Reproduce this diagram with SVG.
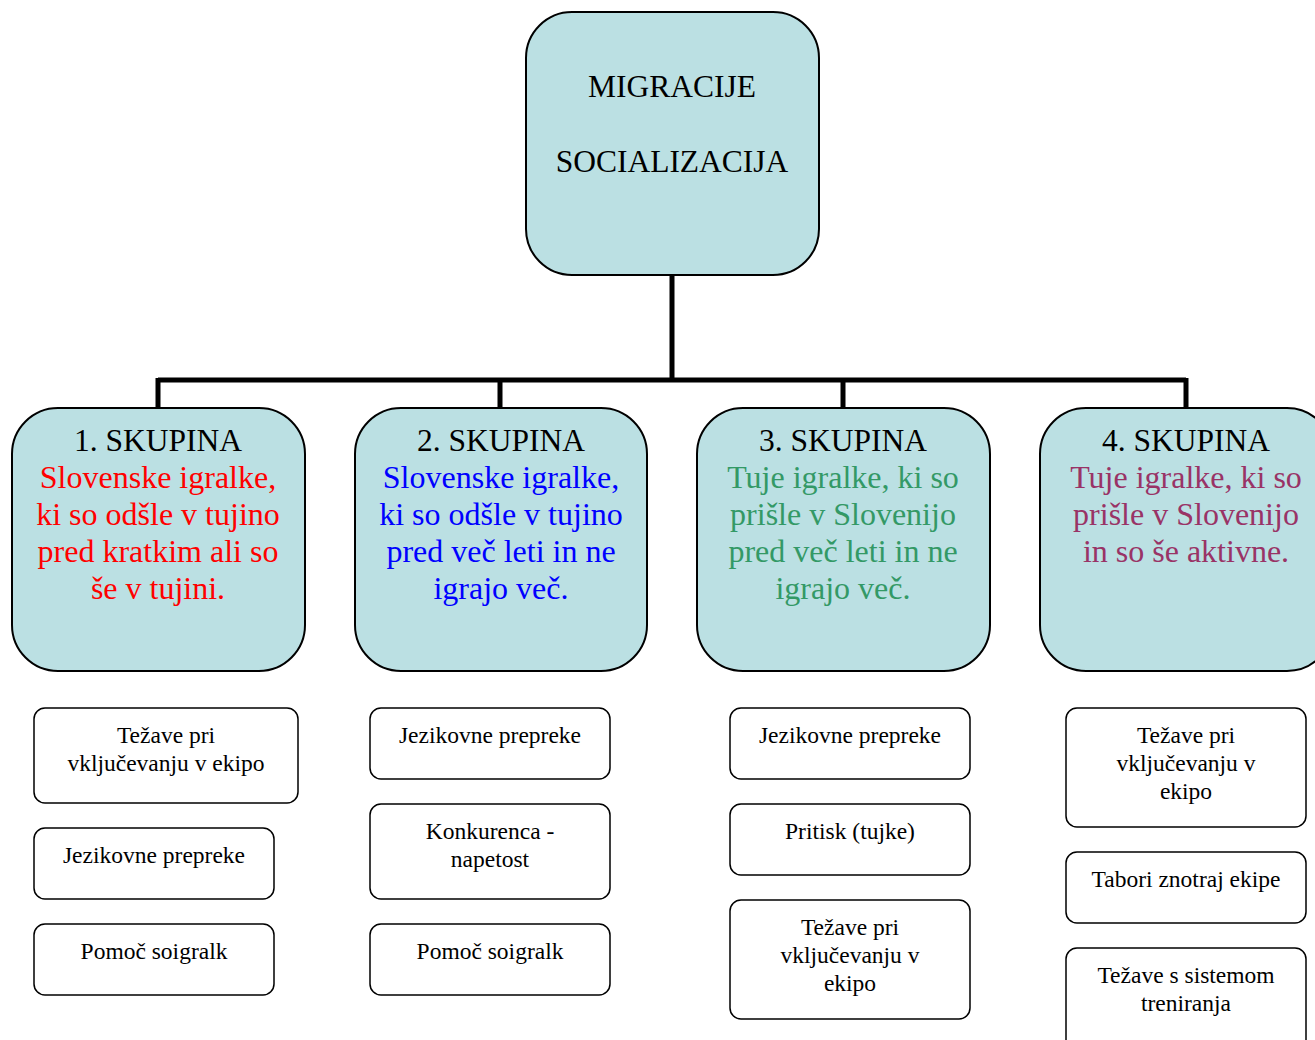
<svg xmlns="http://www.w3.org/2000/svg" width="1315" height="1040" viewBox="0 0 1315 1040">
  <style>
    .big { fill: #BBE0E3; stroke: #000; stroke-width: 2; }
    .small { fill: #fff; stroke: #000; stroke-width: 1.5; }
    .wire { stroke: #000; stroke-width: 5; fill: none; }
    text { font-family: "Liberation Serif", "Times New Roman", serif; text-anchor: middle; }
    .t28 { font-size: 31.5px; fill: #000; }
    .t29 { font-size: 32px; }
    .t20 { font-size: 23.5px; fill: #000; }
    .red { fill: #FF0000; }
    .blue { fill: #0000FF; }
    .green { fill: #339966; }
    .plum { fill: #993366; }
  </style>
  <rect width="1315" height="1040" fill="#fff"/>

  <g id="connectors">
    <path class="wire" d="M672 275 V380 M158 380 H1186 M158 378 V408 M500 378 V408 M843 378 V408 M1186 378 V408"/>
  </g>

  <g id="root">
    <rect class="big" x="526" y="12" width="293" height="263" rx="46"/>
    <text class="t28" x="672" y="97">MIGRACIJE</text>
    <text class="t28" x="672" y="172">SOCIALIZACIJA</text>
  </g>

  <g id="group1">
    <rect class="big" x="12" y="408" width="293" height="263" rx="46"/>
    <text class="t28" x="158" y="451">1. SKUPINA</text>
    <text class="t29 red" x="158" y="488">Slovenske igralke,</text>
    <text class="t29 red" x="158" y="525">ki so odšle v tujino</text>
    <text class="t29 red" x="158" y="562">pred kratkim ali so</text>
    <text class="t29 red" x="158" y="599">še v tujini.</text>
  </g>

  <g id="group2">
    <rect class="big" x="355" y="408" width="292" height="263" rx="46"/>
    <text class="t28" x="501" y="451">2. SKUPINA</text>
    <text class="t29 blue" x="501" y="488">Slovenske igralke,</text>
    <text class="t29 blue" x="501" y="525">ki so odšle v tujino</text>
    <text class="t29 blue" x="501" y="562">pred več leti in ne</text>
    <text class="t29 blue" x="501" y="599">igrajo več.</text>
  </g>

  <g id="group3">
    <rect class="big" x="697" y="408" width="293" height="263" rx="46"/>
    <text class="t28" x="843" y="451">3. SKUPINA</text>
    <text class="t29 green" x="843" y="488">Tuje igralke, ki so</text>
    <text class="t29 green" x="843" y="525">prišle v Slovenijo</text>
    <text class="t29 green" x="843" y="562">pred več leti in ne</text>
    <text class="t29 green" x="843" y="599">igrajo več.</text>
  </g>

  <g id="group4">
    <rect class="big" x="1040" y="408" width="293" height="263" rx="46"/>
    <text class="t28" x="1186" y="451">4. SKUPINA</text>
    <text class="t29 plum" x="1186" y="488">Tuje igralke, ki so</text>
    <text class="t29 plum" x="1186" y="525">prišle v Slovenijo</text>
    <text class="t29 plum" x="1186" y="562">in so še aktivne.</text>
  </g>

  <!-- column 1 items -->
  <g id="g1-item1">
    <rect class="small" x="34" y="708" width="264" height="95" rx="11"/>
    <text class="t20" x="166" y="743">Težave pri</text>
    <text class="t20" x="166" y="771">vključevanju v ekipo</text>
  </g>
  <g id="g1-item2">
    <rect class="small" x="34" y="828" width="240" height="71" rx="11"/>
    <text class="t20" x="154" y="863">Jezikovne prepreke</text>
  </g>
  <g id="g1-item3">
    <rect class="small" x="34" y="924" width="240" height="71" rx="11"/>
    <text class="t20" x="154" y="959">Pomoč soigralk</text>
  </g>

  <!-- column 2 items -->
  <g id="g2-item1">
    <rect class="small" x="370" y="708" width="240" height="71" rx="11"/>
    <text class="t20" x="490" y="743">Jezikovne prepreke</text>
  </g>
  <g id="g2-item2">
    <rect class="small" x="370" y="804" width="240" height="95" rx="11"/>
    <text class="t20" x="490" y="839">Konkurenca -</text>
    <text class="t20" x="490" y="867">napetost</text>
  </g>
  <g id="g2-item3">
    <rect class="small" x="370" y="924" width="240" height="71" rx="11"/>
    <text class="t20" x="490" y="959">Pomoč soigralk</text>
  </g>

  <!-- column 3 items -->
  <g id="g3-item1">
    <rect class="small" x="730" y="708" width="240" height="71" rx="11"/>
    <text class="t20" x="850" y="743">Jezikovne prepreke</text>
  </g>
  <g id="g3-item2">
    <rect class="small" x="730" y="804" width="240" height="71" rx="11"/>
    <text class="t20" x="850" y="839">Pritisk (tujke)</text>
  </g>
  <g id="g3-item3">
    <rect class="small" x="730" y="900" width="240" height="119" rx="11"/>
    <text class="t20" x="850" y="935">Težave pri</text>
    <text class="t20" x="850" y="963">vključevanju v</text>
    <text class="t20" x="850" y="991">ekipo</text>
  </g>

  <!-- column 4 items -->
  <g id="g4-item1">
    <rect class="small" x="1066" y="708" width="240" height="119" rx="11"/>
    <text class="t20" x="1186" y="743">Težave pri</text>
    <text class="t20" x="1186" y="771">vključevanju v</text>
    <text class="t20" x="1186" y="799">ekipo</text>
  </g>
  <g id="g4-item2">
    <rect class="small" x="1066" y="852" width="240" height="71" rx="11"/>
    <text class="t20" x="1186" y="887">Tabori znotraj ekipe</text>
  </g>
  <g id="g4-item3">
    <rect class="small" x="1066" y="948" width="240" height="110" rx="11"/>
    <text class="t20" x="1186" y="983">Težave s sistemom</text>
    <text class="t20" x="1186" y="1011">treniranja</text>
  </g>
</svg>
